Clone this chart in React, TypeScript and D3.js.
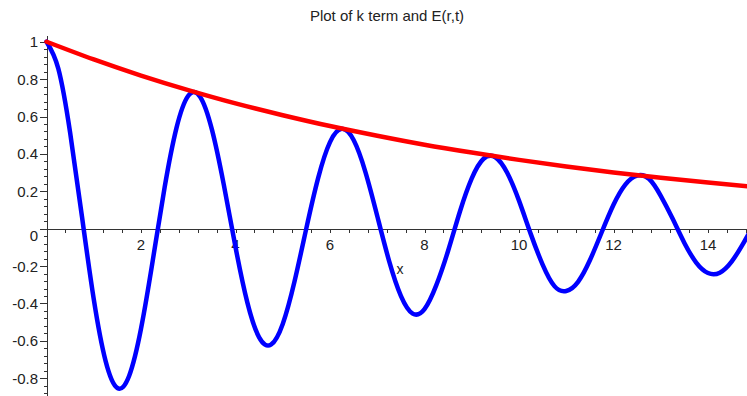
import React from "react";
import * as d3 from "d3";

// Sample positions along x (step 0.25)
const blueX: number[] = d3.range(0, 15.001, 0.25);
// k term values at each sample
const blueY: number[] = [
  1.0, 0.856, 0.514, 0.066, -0.377, -0.707, -0.852, -0.786, -0.535, -0.168,
  0.221, 0.538, 0.711, 0.706, 0.531, 0.238, -0.098, -0.394, -0.581, -0.62,
  -0.509, -0.281, 0.003, 0.272, 0.463, 0.534, 0.474, 0.303, 0.068, -0.172,
  -0.359, -0.454, -0.43, -0.302, -0.118, 0.092, 0.269, 0.374, 0.382, 0.299,
  0.15, -0.029, -0.192, -0.307, -0.333, -0.284, -0.169, -0.019, 0.128, 0.236,
  0.284, 0.267, 0.176, 0.054, -0.076, -0.181, -0.237, -0.235, -0.176, -0.077,
  0.034,
];

// Envelope E(r,t) sampled at whole x values
const redX: number[] = [0, 1, 2, 3, 4, 5, 6, 7, 8, 9, 10, 11, 12, 13, 14, 15];
const redY: number[] = [
  1.0, 0.905, 0.819, 0.741, 0.67, 0.607, 0.549, 0.497, 0.449, 0.407, 0.368,
  0.333, 0.301, 0.273, 0.247, 0.223,
];

const xTickLabels: number[] = [2, 4, 6, 8, 10, 12, 14];
const yTickLabels: number[] = [1, 0.8, 0.6, 0.4, 0.2, 0, -0.2, -0.4, -0.6, -0.8];

const W = 747;
const H = 396;

export default function App() {
  const x = d3.scaleLinear().domain([0, 15]).range([46.5, 46.5 + 15 * 47.25]);
  const y = d3.scaleLinear().domain([0, 1]).range([228.7, 41.7]);

  const line = d3
    .line<[number, number]>()
    .x((d) => x(d[0]))
    .y((d) => y(d[1]))
    .curve(d3.curveNatural);

  const bluePts = blueX.map((v, i) => [v, blueY[i]] as [number, number]);
  const redPts = redX.map((v, i) => [v, redY[i]] as [number, number]);

  const x0 = x(0);
  const y0 = y(0);

  const xMinor = d3.range(0.4, 15, 0.4);
  const yMinor = d3.range(-22, 26).map((k) => k * 0.04);

  const font = "'Liberation Sans', Arial, sans-serif";

  return (
    <svg
      width={W}
      height={H}
      style={{ position: "absolute", left: 0, top: 0, background: "#fff" }}
    >
      <defs>
        <clipPath id="plotArea">
          <rect x={0} y={0} width={W} height={H} />
        </clipPath>
      </defs>

      <text
        x={387}
        y={21}
        textAnchor="middle"
        fontFamily={font}
        fontSize={15}
        fill="#222"
      >
        Plot of k term and E(r,t)
      </text>

      {/* axes */}
      <g stroke="#333" strokeWidth={1} shapeRendering="crispEdges">
        <line x1={x0} x2={W} y1={Math.round(y0) + 0.5} y2={Math.round(y0) + 0.5} />
        <line x1={Math.round(x0) + 0.5} x2={Math.round(x0) + 0.5} y1={36} y2={H} />
        {xMinor.map((t) => (
          <line
            key={"xt" + t}
            x1={Math.round(x(t)) + 0.5}
            x2={Math.round(x(t)) + 0.5}
            y1={Math.round(y0)}
            y2={Math.round(y0) + 4}
          />
        ))}
        {yMinor.map((t, i) => {
          const major = Math.abs(Math.round(t * 5) - t * 5) < 1e-6;
          const py = Math.round(y(t)) + 0.5;
          return (
            <line
              key={"yt" + i}
              x1={Math.round(x0) - (major ? 7 : 3)}
              x2={Math.round(x0)}
              y1={py}
              y2={py}
            />
          );
        })}
      </g>

      <g fontFamily={font} fontSize={15} fill="#222">
        {xTickLabels.map((t) => (
          <text key={"xl" + t} x={x(t)} y={y0 + 21} textAnchor="middle">
            {t}
          </text>
        ))}
        {yTickLabels.map((t) => (
          <text
            key={"yl" + t}
            x={38}
            y={y(t) + 5.5 + (t === 0 ? 7 : 0)}
            textAnchor="end"
          >
            {t}
          </text>
        ))}
        <text x={400} y={y0 + 45} textAnchor="middle" fontSize={14}>
          x
        </text>
      </g>

      <g clipPath="url(#plotArea)" fill="none" strokeLinejoin="round" strokeLinecap="round">
        <path d={line(bluePts) ?? ""} stroke="#0000ff" strokeWidth={4.5} />
        <path d={line(redPts) ?? ""} stroke="#ff0000" strokeWidth={4.5} />
      </g>
    </svg>
  );
}
